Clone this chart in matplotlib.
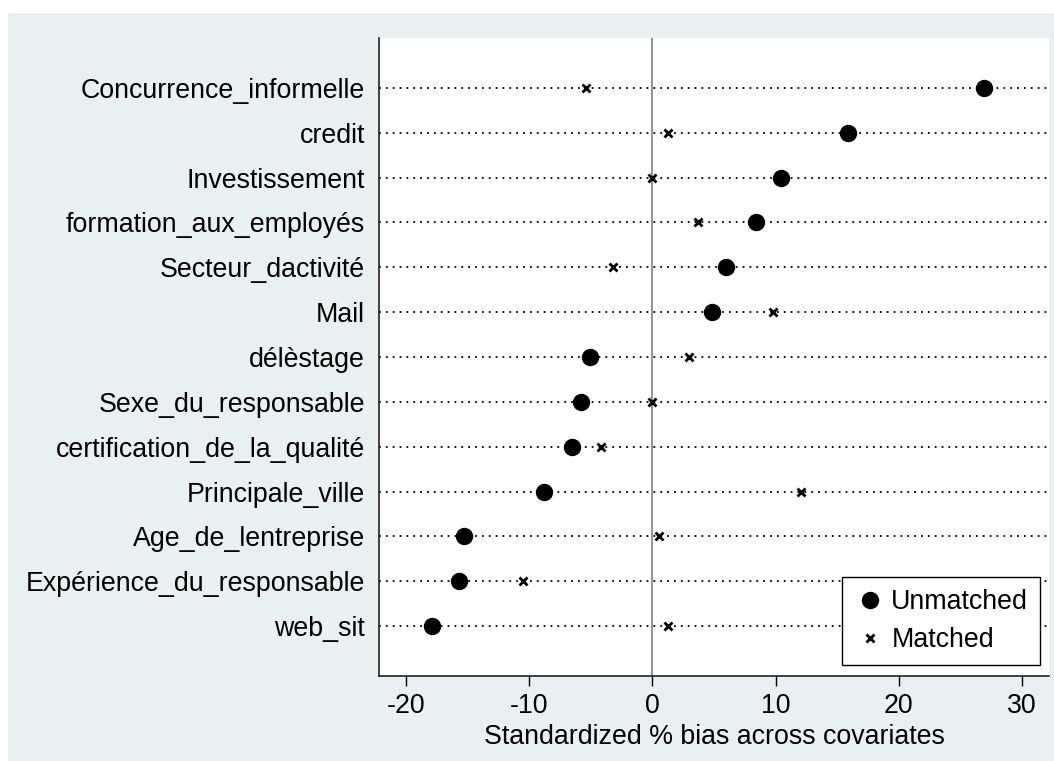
import numpy as np
import matplotlib
matplotlib.use("Agg")
import matplotlib.pyplot as plt
from matplotlib.patches import Rectangle

plt.rcParams['font.family'] = ['Liberation Sans', 'DejaVu Sans']
plt.rcParams['axes.unicode_minus'] = False

# covariates listed top to bottom
covariates = ["Concurrence_informelle", "credit", "Investissement",
              "formation_aux_employés", "Secteur_dactivité", "Mail",
              "délèstage", "Sexe_du_responsable", "certification_de_la_qualité",
              "Principale_ville", "Age_de_lentreprise",
              "Expérience_du_responsable", "web_sit"]
unmatched = [26.9, 15.9, 10.4, 8.4, 6.0, 4.8, -5.1, -5.8, -6.5, -8.8, -15.3, -15.7, -17.9]
matched = [-5.4, 1.3, 0.0, 3.7, -3.2, 9.8, 3.0, 0.0, -4.2, 12.1, 0.5, -10.5, 1.3]
xticks = [-20, -10, 0, 10, 20, 30]

bg = '#e8f0f2'
fs = 19.3
fig = plt.figure(figsize=(10.54, 7.61), dpi=100)
fig.patches.append(Rectangle((8/1054, 0), 1, 748/761, transform=fig.transFigure,
                             facecolor=bg, edgecolor='none', zorder=-10))
ax = fig.add_axes([379/1054, 1-676/761, 670/1054, 638/761])
ax.set_facecolor('white')

n = len(covariates)
ypos = np.arange(n, 0, -1)

for y in ypos:
    ax.axhline(y, color='black', lw=1.3, linestyle=(0, (1, 2.8)), zorder=1)
ax.axvline(0, color='#8a8a8a', lw=1.3, zorder=1)

ax.plot(unmatched, ypos, 'o', color='black', ms=11.5, label='Unmatched', zorder=3)
ax.plot(matched, ypos, 'x', color='black', ms=6, mew=2, label='Matched', zorder=3)

ax.set_xlim(-22.2, 32.2)
ax.set_ylim(1-1.115, n+1.115)
ax.set_xticks(xticks)
ax.set_yticks(ypos)
ax.set_yticklabels(covariates)
ax.tick_params(axis='y', length=0, pad=10, labelsize=fs)
ax.tick_params(axis='x', length=7, width=1, pad=5, labelsize=fs)
ax.set_xlabel('Standardized % bias across covariates', fontsize=fs, labelpad=4)

for s in ['top', 'right']:
    ax.spines[s].set_visible(False)
for s in ['left', 'bottom']:
    ax.spines[s].set_linewidth(1.2)
    ax.spines[s].set_color('#222222')

leg = ax.legend(loc='lower right', bbox_to_anchor=(0.987, 0.017), borderaxespad=0,
                fontsize=fs, fancybox=False, edgecolor='black', framealpha=1,
                handletextpad=0.2, handlelength=1.2, borderpad=0.45, labelspacing=0.45)
leg.get_frame().set_linewidth(1.0)

fig.savefig('out.png', dpi=100, facecolor='white')
